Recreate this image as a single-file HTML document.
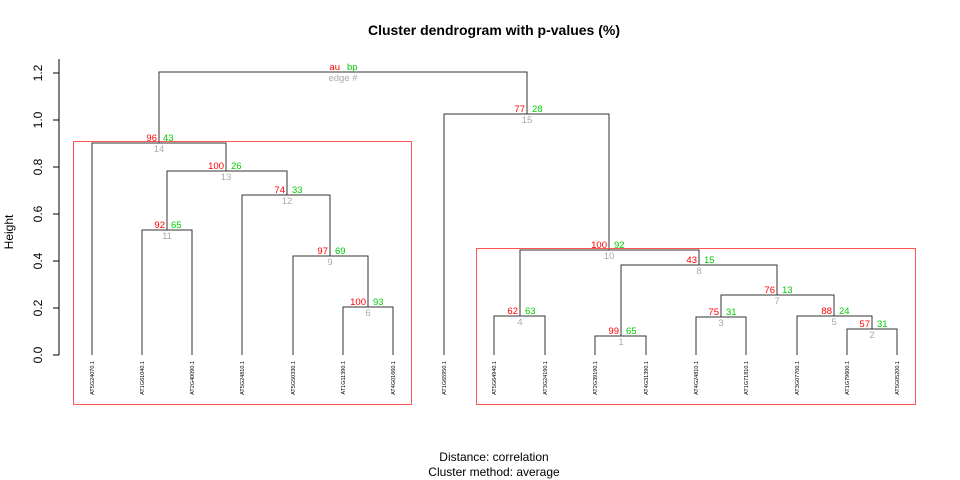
<!DOCTYPE html>
<html><head><style>body{margin:0;background:#fff}svg{display:block}</style></head><body>
<svg width="960" height="480" xmlns="http://www.w3.org/2000/svg" font-family="Liberation Sans, sans-serif">
<text x="494" y="35" font-size="14" font-weight="bold" text-anchor="middle">Cluster dendrogram with p-values (%)</text>
<g stroke="#000" stroke-width="1" fill="none">
<path d="M59,59V355M53,73H59M53,120H59M53,167H59M53,214H59M53,261H59M53,308H59M53,355H59"/>
</g>
<g font-size="12" text-anchor="middle">
<text transform="translate(42,73) rotate(-90)">1.2</text>
<text transform="translate(42,120) rotate(-90)">1.0</text>
<text transform="translate(42,167) rotate(-90)">0.8</text>
<text transform="translate(42,214) rotate(-90)">0.6</text>
<text transform="translate(42,261) rotate(-90)">0.4</text>
<text transform="translate(42,308) rotate(-90)">0.2</text>
<text transform="translate(42,355) rotate(-90)">0.0</text>
<text transform="translate(13,232) rotate(-90)">Height</text>
<text x="494" y="461">Distance:  correlation</text>
<text x="494" y="476">Cluster method: average</text>
</g>
<g stroke="#333" stroke-width="1" fill="none">
<path d="M159,143V72H527V114"/>
<path d="M92,355V143H226V171"/>
<path d="M167,230V171H287V195"/>
<path d="M142,355V230H192V355"/>
<path d="M242,355V195H330V256"/>
<path d="M293,355V256H368V307"/>
<path d="M343,355V307H393V355"/>
<path d="M444,355V114H609V250"/>
<path d="M520,316V250H699V265"/>
<path d="M494,355V316H545V355"/>
<path d="M621,336V265H777V295"/>
<path d="M595,355V336H646V355"/>
<path d="M721,317V295H834V316"/>
<path d="M696,355V317H746V355"/>
<path d="M797,355V316H872V329"/>
<path d="M847,355V329H897V355"/>
</g>
<g stroke="#f55" stroke-width="1" fill="none">
<rect x="73.5" y="141.5" width="338" height="263"/>
<rect x="476.5" y="248.5" width="439" height="156"/>
</g>
<g font-size="5.5" fill="#000" text-anchor="end">
<text transform="translate(94,361) rotate(-90)">AT5G24070.1</text>
<text transform="translate(144,361) rotate(-90)">AT1G61040.1</text>
<text transform="translate(194,361) rotate(-90)">AT2G40090.1</text>
<text transform="translate(244,361) rotate(-90)">AT5G24810.1</text>
<text transform="translate(295,361) rotate(-90)">AT5G50330.1</text>
<text transform="translate(345,361) rotate(-90)">AT1G11390.1</text>
<text transform="translate(395,361) rotate(-90)">AT4G01660.1</text>
<text transform="translate(446,361) rotate(-90)">AT1G65950.1</text>
<text transform="translate(496,361) rotate(-90)">AT5G64940.1</text>
<text transform="translate(547,361) rotate(-90)">AT3G24190.1</text>
<text transform="translate(597,361) rotate(-90)">AT2G39190.1</text>
<text transform="translate(648,361) rotate(-90)">AT4G31390.1</text>
<text transform="translate(698,361) rotate(-90)">AT4G24810.1</text>
<text transform="translate(748,361) rotate(-90)">AT1G71810.1</text>
<text transform="translate(799,361) rotate(-90)">AT3G07700.1</text>
<text transform="translate(849,361) rotate(-90)">AT1G79600.1</text>
<text transform="translate(899,361) rotate(-90)">AT5G05200.1</text>
</g>
<g font-size="9.5">
<g fill="#f00" text-anchor="end">
<text x="340" y="70">au</text>
<text x="157" y="141">96</text>
<text x="224" y="169">100</text>
<text x="285" y="193">74</text>
<text x="165" y="228">92</text>
<text x="328" y="254">97</text>
<text x="366" y="305">100</text>
<text x="525" y="112">77</text>
<text x="607" y="248">100</text>
<text x="697" y="263">43</text>
<text x="775" y="293">76</text>
<text x="518" y="314">62</text>
<text x="619" y="334">99</text>
<text x="719" y="315">75</text>
<text x="832" y="314">88</text>
<text x="870" y="327">57</text>
</g>
<g fill="#0c0">
<text x="347" y="70">bp</text>
<text x="163" y="141">43</text>
<text x="231" y="169">26</text>
<text x="292" y="193">33</text>
<text x="171" y="228">65</text>
<text x="335" y="254">69</text>
<text x="373" y="305">93</text>
<text x="532" y="112">28</text>
<text x="614" y="248">92</text>
<text x="704" y="263">15</text>
<text x="782" y="293">13</text>
<text x="525" y="314">63</text>
<text x="626" y="334">65</text>
<text x="726" y="315">31</text>
<text x="839" y="314">24</text>
<text x="877" y="327">31</text>
</g>
<g fill="#aaa" text-anchor="middle">
<text x="343" y="81">edge #</text>
<text x="159" y="152">14</text>
<text x="226" y="180">13</text>
<text x="287" y="204">12</text>
<text x="167" y="239">11</text>
<text x="330" y="265">9</text>
<text x="368" y="316">6</text>
<text x="527" y="123">15</text>
<text x="609" y="259">10</text>
<text x="699" y="274">8</text>
<text x="777" y="304">7</text>
<text x="520" y="325">4</text>
<text x="621" y="345">1</text>
<text x="721" y="326">3</text>
<text x="834" y="325">5</text>
<text x="872" y="338">2</text>
</g>
</g>
</svg>
</body></html>
